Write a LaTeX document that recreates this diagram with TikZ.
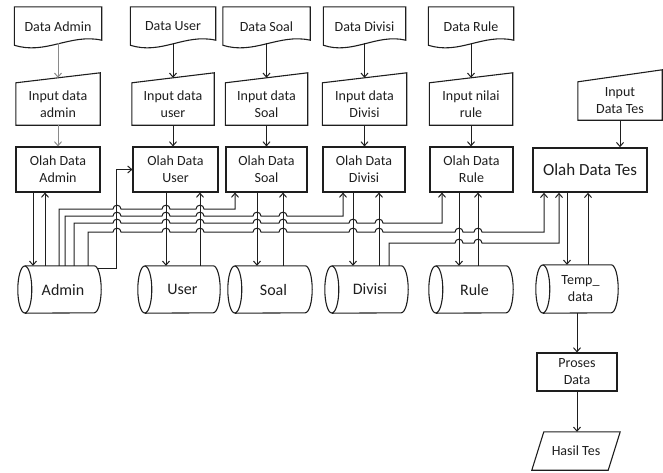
\documentclass[tikz,border=0pt]{standalone}
\usepackage{fontspec}
\setmainfont{Carlito}
\usepackage{tikz}
\usetikzlibrary{arrows.meta,calc}
\definecolor{flowink}{HTML}{1E1E1E}
\definecolor{softgrey}{HTML}{8A8A8A}

\begin{document}
\begin{tikzpicture}[x=1pt,y=1pt,
  lbl/.style={inner sep=0pt,align=center,text=flowink,font=\fontsize{14}{17}\selectfont},
  proc/.style={lbl,draw=flowink,line width=1.1pt},
  outl/.style={draw=flowink,line width=1.1pt},
  flow/.style={draw=flowink,line width=1pt,-{Straight Barb[length=4pt,width=7pt]}},
  dbtxt/.style={lbl,font=\fontsize{16}{19}\selectfont}]
\useasboundingbox (0,0) rectangle (663,-472);
% source documents
\node[lbl,minimum width=87pt,minimum height=39pt] (dadmin) at (58,-26.5) {Data Admin};
\draw[outl] (dadmin.north west) -- (dadmin.north east) -- ([yshift=6pt]dadmin.south east) .. controls +(-31,7) and +(31,-10) .. ([yshift=1pt]dadmin.south west) -- cycle;
\node[lbl,minimum width=85pt,minimum height=39pt] (duser) at (173,-26.5) {Data User};
\draw[outl] (duser.north west) -- (duser.north east) -- ([yshift=6pt]duser.south east) .. controls +(-31,7) and +(31,-10) .. ([yshift=1pt]duser.south west) -- cycle;
\node[lbl,minimum width=87pt,minimum height=39pt] (dsoal) at (266.5,-26.5) {Data Soal};
\draw[outl] (dsoal.north west) -- (dsoal.north east) -- ([yshift=6pt]dsoal.south east) .. controls +(-31,7) and +(31,-10) .. ([yshift=1pt]dsoal.south west) -- cycle;
\node[lbl,minimum width=82pt,minimum height=39pt] (ddivisi) at (364.5,-26.5) {Data Divisi};
\draw[outl] (ddivisi.north west) -- (ddivisi.north east) -- ([yshift=6pt]ddivisi.south east) .. controls +(-29,7) and +(29,-10) .. ([yshift=1pt]ddivisi.south west) -- cycle;
\node[lbl,minimum width=85pt,minimum height=39pt] (drule) at (471,-26.5) {Data Rule};
\draw[outl] (drule.north west) -- (drule.north east) -- ([yshift=6pt]drule.south east) .. controls +(-31,7) and +(31,-10) .. ([yshift=1pt]drule.south west) -- cycle;
% manual inputs
\node[lbl,minimum width=84pt,minimum height=42pt] (iadmin) at (58,-104) {Input data\\admin};
\draw[outl] (iadmin.south west) -- (iadmin.north west) -- ([yshift=10pt]iadmin.north east) -- (iadmin.south east) -- cycle;
\node[lbl,minimum width=82pt,minimum height=42pt] (iuser) at (173,-104) {Input data\\user};
\draw[outl] (iuser.south west) -- (iuser.north west) -- ([yshift=10pt]iuser.north east) -- (iuser.south east) -- cycle;
\node[lbl,minimum width=82pt,minimum height=42pt] (isoal) at (266.5,-104) {Input data\\Soal};
\draw[outl] (isoal.south west) -- (isoal.north west) -- ([yshift=10pt]isoal.north east) -- (isoal.south east) -- cycle;
\node[lbl,minimum width=84pt,minimum height=42pt] (idivisi) at (364.5,-104) {Input data\\Divisi};
\draw[outl] (idivisi.south west) -- (idivisi.north west) -- ([yshift=10pt]idivisi.north east) -- (idivisi.south east) -- cycle;
\node[lbl,minimum width=83pt,minimum height=42pt] (irule) at (471,-104) {Input nilai\\rule};
\draw[outl] (irule.south west) -- (irule.north west) -- ([yshift=10pt]irule.north east) -- (irule.south east) -- cycle;
\node[lbl,minimum width=84pt,minimum height=38pt] (itest) at (620,-101) {Input\\Data Tes};
\draw[outl] (itest.south west) -- (itest.north west) -- ([yshift=12pt]itest.north east) -- (itest.south east) -- cycle;
% processes
\node[proc,minimum width=84pt,minimum height=45pt] (oadmin) at (58,-169.5) {Olah Data\\Admin};
\node[proc,minimum width=85pt,minimum height=45pt] (ouser) at (175.5,-169.5) {Olah Data\\User};
\node[proc,minimum width=81pt,minimum height=45pt] (osoal) at (266.5,-169.5) {Olah Data\\Soal};
\node[proc,minimum width=82pt,minimum height=45pt] (odivisi) at (364,-169.5) {Olah Data\\Divisi};
\node[proc,minimum width=83pt,minimum height=45pt] (orule) at (471.5,-169.5) {Olah Data\\Rule};
\node[proc,line width=1.6pt,font=\fontsize{17}{20}\selectfont,minimum width=114pt,minimum height=44pt] (otest) at (590,-170) {Olah Data Tes};
\node[proc,minimum width=80pt,minimum height=38pt] (proses) at (577,-372) {Proses\\Data};
\node[lbl,minimum width=76pt,minimum height=38pt] (hasil) at (576,-451) {Hasil Tes};
\draw[outl] ([xshift=-6pt]hasil.south west) -- ([xshift=6pt]hasil.north west) -- ([xshift=6pt]hasil.north east) -- ([xshift=-6pt]hasil.south east) -- cycle;
% stores
\node[dbtxt,minimum width=76pt,minimum height=47pt] (admin) at (63,-289.5) {Admin};
\draw[outl] (admin.west) ellipse[x radius=7pt,y radius=23.5pt];
\draw[outl] (admin.north west) -- ([xshift=-7pt]admin.north east) arc[start angle=90,end angle=-90,x radius=7pt,y radius=23.5pt] -- (admin.south west);
\node[dbtxt,minimum width=75pt,minimum height=47pt] (user) at (182.5,-289.5) {User};
\draw[outl] (user.west) ellipse[x radius=7pt,y radius=23.5pt];
\draw[outl] (user.north west) -- ([xshift=-7pt]user.north east) arc[start angle=90,end angle=-90,x radius=7pt,y radius=23.5pt] -- (user.south west);
\node[dbtxt,minimum width=77pt,minimum height=47pt] (soal) at (273.5,-289.5) {Soal};
\draw[outl] (soal.west) ellipse[x radius=7pt,y radius=23.5pt];
\draw[outl] (soal.north west) -- ([xshift=-7pt]soal.north east) arc[start angle=90,end angle=-90,x radius=7pt,y radius=23.5pt] -- (soal.south west);
\node[dbtxt,minimum width=76pt,minimum height=47pt] (divisi) at (370,-289.5) {Divisi};
\draw[outl] (divisi.west) ellipse[x radius=7pt,y radius=23.5pt];
\draw[outl] (divisi.north west) -- ([xshift=-7pt]divisi.north east) arc[start angle=90,end angle=-90,x radius=7pt,y radius=23.5pt] -- (divisi.south west);
\node[dbtxt,minimum width=77pt,minimum height=47pt] (rule) at (474.5,-289.5) {Rule};
\draw[outl] (rule.west) ellipse[x radius=7pt,y radius=23.5pt];
\draw[outl] (rule.north west) -- ([xshift=-7pt]rule.north east) arc[start angle=90,end angle=-90,x radius=7pt,y radius=23.5pt] -- (rule.south west);
\node[lbl,minimum width=75pt,minimum height=48pt] (temp) at (580.5,-289) {Temp\_\\data};
\draw[outl] (temp.west) ellipse[x radius=7pt,y radius=24pt];
\draw[outl] (temp.north west) -- ([xshift=-7pt]temp.north east) arc[start angle=90,end angle=-90,x radius=7pt,y radius=24pt] -- (temp.south west);
% documents into inputs, inputs into processes
\draw[flow,draw=softgrey] ([yshift=3pt]dadmin.south) -- ([yshift=5pt]iadmin.north);
\draw[flow] ([yshift=3pt]duser.south) -- ([yshift=5pt]iuser.north);
\draw[flow] ([yshift=3pt]dsoal.south) -- ([yshift=5pt]isoal.north);
\draw[flow] ([yshift=3pt]ddivisi.south) -- ([yshift=5pt]idivisi.north);
\draw[flow] ([yshift=3pt]drule.south) -- ([yshift=5pt]irule.north);
\draw[flow,draw=softgrey] (iadmin.south) -- (iadmin.south |- oadmin.north);
\draw[flow] (iuser.south) -- (iuser.south |- ouser.north);
\draw[flow] (isoal.south) -- (isoal.south |- osoal.north);
\draw[flow] (idivisi.south) -- (idivisi.south |- odivisi.north);
\draw[flow] (irule.south) -- (irule.south |- orule.north);
\draw[flow] (itest.south) -- (itest.south |- otest.north);
% processes and stores
\draw[flow] (oadmin.south -| 33,0) -- (admin.north -| 33,0);
\draw[flow] (admin.north -| 45,0) -- (oadmin.south -| 45,0);
\draw[flow] (ouser.south -| 166,0) -- (user.north -| 166,0);
\draw[flow] (user.north -| 200,0) -- (ouser.south -| 200,0);
\draw[flow] (osoal.south -| 257,0) -- (soal.north -| 257,0);
\draw[flow] (soal.north -| 283,0) -- (osoal.south -| 283,0);
\draw[flow] (odivisi.south -| 353,0) -- (divisi.north -| 353,0);
\draw[flow] (divisi.north -| 379,0) -- (odivisi.south -| 379,0);
\draw[flow] (orule.south -| 459,0) -- (rule.north -| 459,0);
\draw[flow] (rule.north -| 478,0) -- (orule.south -| 478,0);
\draw[flow] (otest.south -| 567,0) -- (temp.north -| 567,0);
\draw[flow] (temp.north -| 588,0) -- (otest.south -| 588,0);
\draw[flow] ([xshift=-3pt,yshift=-3pt]admin.north east) -| ([xshift=-16pt]ouser.west) -- (ouser.west);
% admin feeds with line hops
\draw[flow] (admin.north -| 59,0) -- (59,-209) \foreach \c in {117,166,200}{ -- (\c-4,-209) .. controls +(0,5) and +(0,5) .. (\c+4,-209)} -| (osoal.south -| 235,0);
\draw[flow] (admin.north -| 65,0) -- (65,-216) \foreach \c in {117,166,200,257,283}{ -- (\c-4,-216) .. controls +(0,5) and +(0,5) .. (\c+4,-216)} -| (odivisi.south -| 343,0);
\draw[flow] (admin.north -| 74,0) -- (74,-223) \foreach \c in {117,166,200,257,283,353,379}{ -- (\c-4,-223) .. controls +(0,5) and +(0,5) .. (\c+4,-223)} -| (orule.south -| 442,0);
\draw[flow] (admin.north -| 88,0) -- (88,-232) \foreach \c in {117,166,200,257,283,353,379,459,478}{ -- (\c-4,-232) .. controls +(0,5) and +(0,5) .. (\c+4,-232)} -| (otest.south -| 544,0);
\draw[flow] (divisi.north -| 389,0) -- (389,-243) \foreach \c in {459,478}{ -- (\c-4,-243) .. controls +(0,5) and +(0,5) .. (\c+4,-243)} -| (otest.south -| 559,0);
% result chain
\draw[flow] (temp.south -| proses.north) -- (proses.north);
\draw[flow] (proses.south) -- (proses.south |- hasil.north);
\end{tikzpicture}
\end{document}
